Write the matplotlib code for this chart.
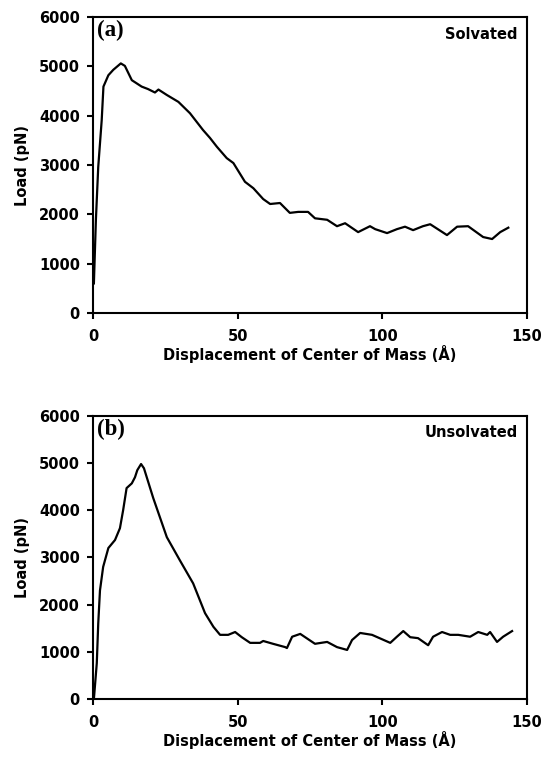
import matplotlib.pyplot as plt

# panel (a): solvated
x_solv = [0.3, 1.0, 1.8, 3.0, 3.6, 5.3, 7.0, 9.6, 11.0, 13.4, 16.8, 19.0, 21.4, 22.6,
          25.5, 29.5, 33.5, 38.0, 40.4, 42.8, 46.2, 48.5, 52.5, 55.4, 58.8, 61.2, 64.6,
          68.0, 70.9, 74.3, 76.7, 80.9, 84.3, 87.1, 91.6, 95.7, 97.5, 101.6, 105.0,
          107.8, 110.6, 114.0, 116.5, 122.3, 125.8, 129.6, 134.8, 137.9, 140.7, 143.5]
load_solv = [600, 1900, 2960, 3910, 4590, 4820, 4930, 5060, 5010, 4720, 4590, 4540, 4470, 4530,
             4420, 4280, 4050, 3710, 3550, 3370, 3140, 3040, 2660, 2530, 2310, 2210, 2230,
             2030, 2050, 2050, 1920, 1890, 1760, 1820, 1640, 1760, 1700, 1620, 1700,
             1750, 1680, 1760, 1800, 1580, 1750, 1760, 1540, 1500, 1640, 1730]

# panel (b): unsolvated
x_unsolv = [0.3, 1.3, 1.8, 2.4, 3.5, 5.3, 7.6, 9.3, 10.4, 11.6, 13.4, 14.5, 15.3, 16.6,
            17.6, 20.8, 25.5, 30.0, 34.6, 38.7, 41.6, 43.9, 46.7, 49.1, 51.4, 54.3,
            57.7, 58.8, 62.2, 66.4, 67.0, 68.8, 71.6, 76.7, 80.9, 84.3, 87.8, 89.5,
            92.3, 96.4, 102.7, 105.0, 107.2, 109.6, 112.3, 115.8, 117.5, 120.6, 123.4,
            126.2, 130.3, 133.1, 136.2, 137.2, 139.6, 141.7, 144.8]
load_unsolv = [0, 760, 1600, 2300, 2800, 3200, 3370, 3620, 4000, 4470, 4570, 4700, 4850, 4980,
               4890, 4260, 3430, 2940, 2450, 1820, 1530, 1360, 1360, 1420, 1310, 1190,
               1190, 1230, 1170, 1100, 1080, 1320, 1380, 1170, 1210, 1100, 1040, 1250,
               1400, 1360, 1190, 1320, 1440, 1310, 1290, 1140, 1320, 1420, 1360,
               1360, 1320, 1420, 1360, 1420, 1210, 1320, 1440]

panels = [("(a)", "Solvated", x_solv, load_solv),
          ("(b)", "Unsolvated", x_unsolv, load_unsolv)]
boxes = [[0.171, 0.5865, 0.798, 0.391], [0.171, 0.0766, 0.798, 0.374]]

plt.rcParams['font.family'] = ['DejaVu Sans']
fig = plt.figure(figsize=(5.44, 7.57), dpi=100)

for (tag, name, xs, ys), box in zip(panels, boxes):
    ax = fig.add_axes(box)
    ax.plot(xs, ys, color='black', lw=1.6)
    ax.set_xlim(0, 150)
    ax.set_ylim(0, 6000)
    ax.set_xticks([0, 50, 100, 150])
    ax.set_yticks(range(0, 7000, 1000))
    for s in ax.spines.values():
        s.set_linewidth(1.5)
    ax.tick_params(direction='out', length=4.5, width=1.5, labelsize=10.5, pad=5)
    ax.tick_params(axis='x', pad=7)
    for lab in ax.get_xticklabels() + ax.get_yticklabels():
        lab.set_fontweight('bold')
    ax.set_xlabel("Displacement of Center of Mass (Å)", fontsize=10.5,
                  fontweight='bold', labelpad=1)
    ax.set_ylabel("Load (pN)", fontsize=10.5, fontweight='bold', labelpad=6)
    ax.text(0.01, 0.99, tag, transform=ax.transAxes, ha='left', va='top',
            fontsize=16.5, fontweight='bold', family='Liberation Serif')
    ax.text(0.978, 0.94, name, transform=ax.transAxes, ha='right', va='center',
            fontsize=10.5, fontweight='bold')

fig.savefig("out.png", dpi=100)
